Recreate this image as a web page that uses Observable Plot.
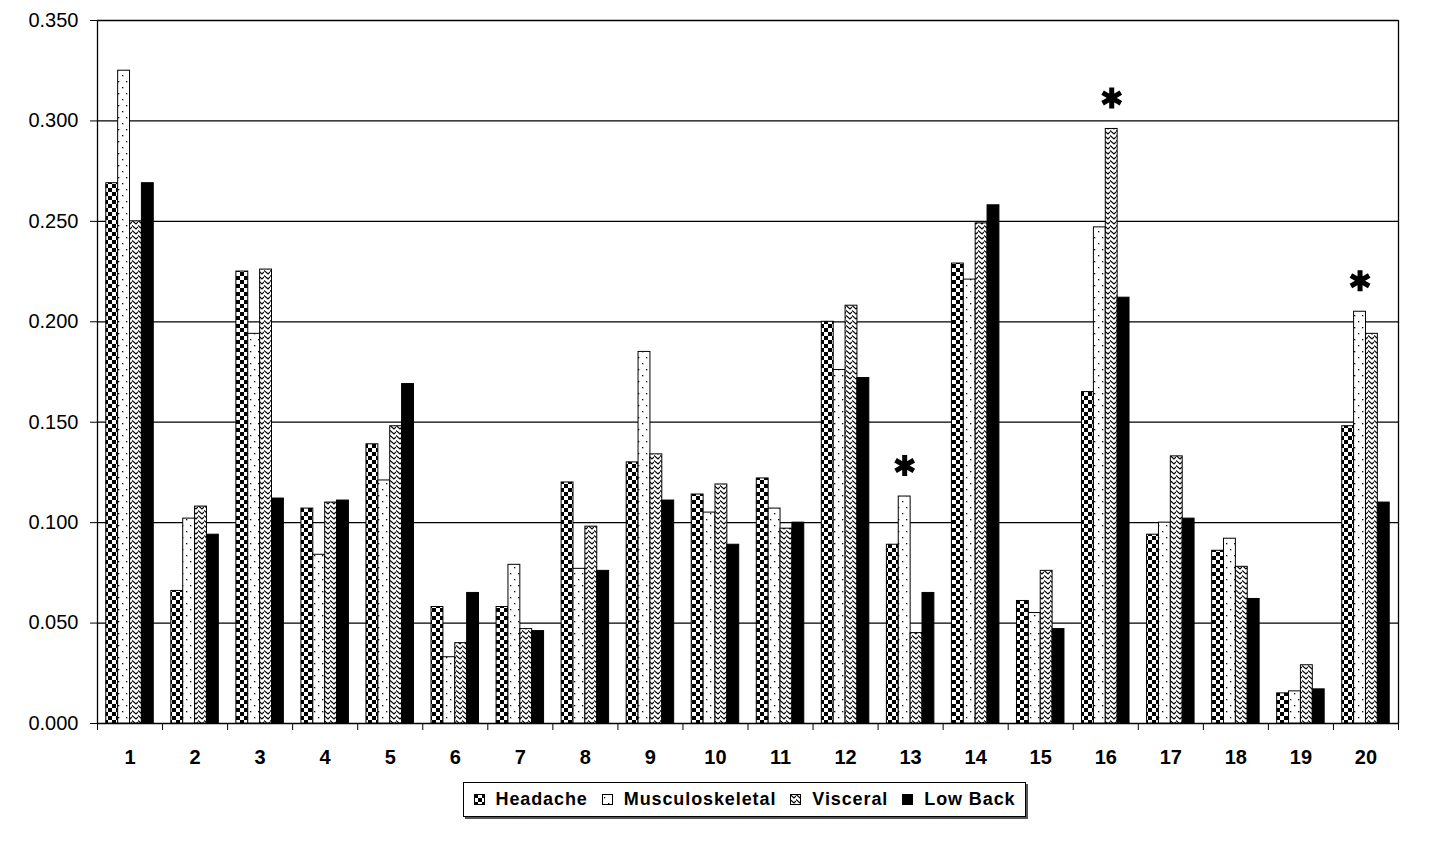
<!DOCTYPE html>
<html>
<head>
<meta charset="utf-8">
<script src="https://cdn.jsdelivr.net/npm/d3@7"></script>
<script src="https://cdn.jsdelivr.net/npm/@observablehq/plot@0.6"></script>
<style>
  html, body { margin: 0; padding: 0; background: #fff; }
  body { width: 1455px; height: 850px; position: relative; font-family: "Liberation Sans", Arial, sans-serif; }
  #legend {
    position: absolute; left: 463px; top: 782px; width: 561px; height: 33px;
    border: 1px solid #000; box-shadow: 2px 2px 0 #555;
    display: flex; align-items: center; justify-content: center;
    font: bold 18px "Liberation Sans", Arial, sans-serif; letter-spacing: 0.9px; color: #000;
  }
  #legend .item { display: flex; align-items: center; margin: 0 7px; }
  #legend .item:first-child { margin-left: 0; }
  #legend .item:last-child { margin-right: 0; }
  #legend svg { margin-right: 11px; }
</style>
</head>
<body>
<svg width="0" height="0" style="position:absolute">
  <defs>
    <pattern id="p-checker" patternUnits="userSpaceOnUse" width="8" height="8">
      <rect width="8" height="8" fill="#fff"/>
      <rect x="0" y="0" width="4" height="4" fill="#000"/>
      <rect x="4" y="4" width="4" height="4" fill="#000"/>
    </pattern>
    <pattern id="p-dots" patternUnits="userSpaceOnUse" width="8" height="12">
      <rect width="8" height="12" fill="#fff"/>
      <rect x="2" y="3" width="1.3" height="1.3" fill="#000"/>
      <rect x="6" y="9" width="1.3" height="1.3" fill="#000"/>
    </pattern>
    <pattern id="p-chevron" patternUnits="userSpaceOnUse" width="6" height="5">
      <rect width="6" height="5" fill="#fff"/>
      <path d="M0,0.5 L4,4 L6,2" fill="none" stroke="#000" stroke-width="1.1"/>
    </pattern>
  </defs>
</svg>
<div id="chart"></div>
<div id="legend"></div>
<script>
// ---- data ----
const categories = [1, 2, 3, 4, 5, 6, 7, 8, 9, 10, 11, 12, 13, 14, 15, 16, 17, 18, 19, 20];
const seriesNames = ["Headache", "Musculoskeletal", "Visceral", "Low Back"];
const headache        = [0.269, 0.066, 0.225, 0.107, 0.139, 0.058, 0.058, 0.120, 0.130, 0.114, 0.122, 0.200, 0.089, 0.229, 0.061, 0.165, 0.094, 0.086, 0.015, 0.148];
const musculoskeletal = [0.325, 0.102, 0.194, 0.084, 0.121, 0.033, 0.079, 0.077, 0.185, 0.105, 0.107, 0.176, 0.113, 0.221, 0.055, 0.247, 0.100, 0.092, 0.016, 0.205];
const visceral        = [0.250, 0.108, 0.226, 0.110, 0.148, 0.040, 0.047, 0.098, 0.134, 0.119, 0.097, 0.208, 0.045, 0.249, 0.076, 0.296, 0.133, 0.078, 0.029, 0.194];
const lowBack         = [0.269, 0.094, 0.112, 0.111, 0.169, 0.065, 0.046, 0.076, 0.111, 0.089, 0.100, 0.172, 0.065, 0.258, 0.047, 0.212, 0.102, 0.062, 0.017, 0.110];
const yTicks = [0, 0.05, 0.10, 0.15, 0.20, 0.25, 0.30, 0.35];
const starCategories = [13, 16, 20];
const starSeries = ["Musculoskeletal", "Visceral", "Musculoskeletal"];

// ---- build table ----
const seriesValues = [headache, musculoskeletal, visceral, lowBack];
const fills = {
  "Headache": "url(#p-checker)",
  "Musculoskeletal": "url(#p-dots)",
  "Visceral": "url(#p-chevron)",
  "Low Back": "#000"
};
const groupPad = 0.135;
const barW = (1 - 2 * groupPad) / seriesNames.length;
const rows = [];
categories.forEach((c, ci) => {
  seriesNames.forEach((s, si) => {
    rows.push({cat: c, series: s, si, value: seriesValues[si][ci]});
  });
});
const bx1 = d => d.cat - 0.5 + groupPad + d.si * barW;
const bx2 = d => bx1(d) + barW;
const stars = starCategories.map((c, i) => rows.find(r => r.cat === c && r.series === starSeries[i]));
const boundaries = [0, ...categories].map(c => c + 0.5);

const chart = Plot.plot({
  width: 1455,
  height: 775,
  marginLeft: 97,
  marginRight: 57,
  marginTop: 20,
  marginBottom: 52,
  style: {fontFamily: "'Liberation Sans', Arial, sans-serif", fontSize: "20px", color: "#000", background: "#fff"},
  x: {domain: [0.5, 20.5], ticks: boundaries, tickSize: 7, tickFormat: () => "", label: null},
  y: {domain: [0, 0.35], ticks: yTicks, tickSize: 7, tickPadding: 12, tickFormat: d3.format(".3f"), label: null},
  marks: [
    Plot.ruleY(yTicks, {stroke: "#000", strokeWidth: 1.3}),
    Plot.ruleX([0.5, 20.5], {stroke: "#000", strokeWidth: 1.3}),
    ...seriesNames.map(s => Plot.rectY(rows.filter(r => r.series === s), {
      x1: bx1, x2: bx2, y1: 0, y2: "value",
      fill: fills[s], stroke: "#000", strokeWidth: 1
    })),
    Plot.text(categories, {x: d => d, y: 0, dy: 34, text: d => String(d), fontWeight: "bold", fontSize: 20}),
    Plot.dot(stars, {x: d => (bx1(d) + bx2(d)) / 2, y: "value", dy: -31, symbol: "asterisk", r: 10, stroke: "#000", strokeWidth: 5})
  ]
});
document.getElementById("chart").appendChild(chart);

// ---- legend ----
const legend = document.getElementById("legend");
seriesNames.forEach(s => {
  const item = document.createElement("div");
  item.className = "item";
  item.innerHTML = `<svg width="11" height="11"><rect x="0.5" y="0.5" width="10" height="10" fill="${fills[s]}" stroke="#000"/></svg><span>${s}</span>`;
  legend.appendChild(item);
});
</script>
</body>
</html>
